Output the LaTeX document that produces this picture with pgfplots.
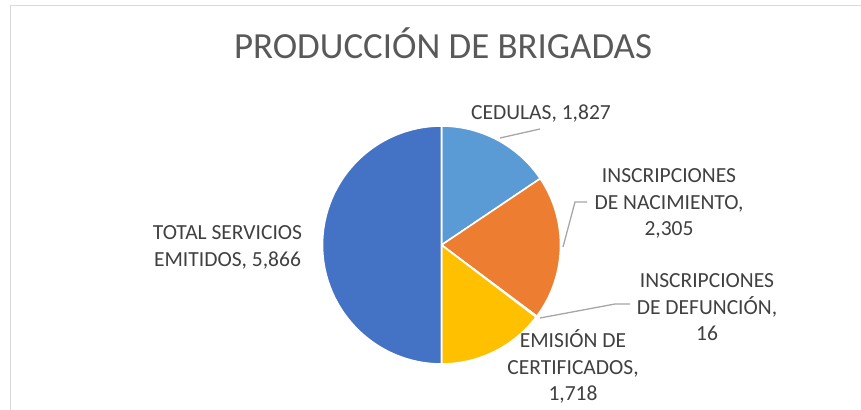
\documentclass[border=0pt]{standalone}
\usepackage{pgfplots}
\usepackage{pgfplotstable}
\pgfplotsset{compat=1.18}
\usepackage{fontspec}
\setmainfont{Carlito}
\definecolor{cced}{HTML}{5B9BD5}
\definecolor{cnac}{HTML}{ED7D31}
\definecolor{cdef}{HTML}{A5A5A5}
\definecolor{ccert}{HTML}{FFC000}
\definecolor{ctot}{HTML}{4472C4}
\definecolor{titlegray}{HTML}{595959}
\definecolor{labelgray}{HTML}{404040}
\definecolor{leader}{HTML}{A6A6A6}
\definecolor{frame}{HTML}{D9D9D9}
\pgfplotstableread{
label value color
Cedulas 1827 cced
Nacimiento 2305 cnac
Defuncion 16 cdef
Certificados 1718 ccert
Total 5866 ctot
}\piedata
\begin{document}
\begin{tikzpicture}
\pgfmathsetmacro{\total}{0}
\pgfplotsforeachungrouped \i in {0,...,4}{%
  \pgfplotstablegetelem{\i}{value}\of\piedata
  \pgfmathsetmacro{\total}{\total+\pgfplotsretval}%
}
\begin{axis}[
  scale only axis, width=861bp, height=410bp,
  xmin=0, xmax=861, ymin=0, ymax=410,
  hide axis, clip=false,
]
% frame
\draw[frame, line width=1.5bp] (axis cs:10.5,0) -- (axis cs:10.5,404.5) -- (axis cs:861,404.5);
% slices
\pgfmathsetmacro{\cum}{0}
\pgfplotsforeachungrouped \i in {0,...,4}{%
  \pgfplotstablegetelem{\i}{value}\of\piedata \let\v\pgfplotsretval
  \pgfplotstablegetelem{\i}{color}\of\piedata \let\c\pgfplotsretval
  \pgfmathsetmacro{\sa}{90-360*(\cum/\total)}%
  \pgfmathsetmacro{\cum}{\cum+\v}%
  \pgfmathsetmacro{\ea}{90-360*(\cum/\total)}%
  \edef\temp{\noexpand\filldraw[fill=\c, draw=white, line width=1.6bp, line join=round] (axis cs:441.5,165) -- ++(\sa:119bp) arc[start angle=\sa, end angle=\ea, radius=119bp] -- cycle;}%
  \temp
}
% leader lines
\draw[leader, line width=1.3bp] (axis cs:500,272) -- (axis cs:540,281);
\draw[leader, line width=1.3bp] (axis cs:563,163) -- (axis cs:575,208) -- (axis cs:587,208);
\draw[leader, line width=1.3bp] (axis cs:540,92) -- (axis cs:615,106) -- (axis cs:630,106);
% title
\node[anchor=base, text=titlegray, font=\fontsize{37}{44}\selectfont, inner sep=0pt] at (axis cs:443,351.6) {PRODUCCIÓN DE BRIGADAS};
% labels
\tikzset{lab/.style={anchor=base, text=labelgray, font=\fontsize{21.6}{26}\selectfont, inner sep=0pt}}
\node[lab] at (axis cs:541,290.2) {CEDULAS, 1,827};
\node[lab] at (axis cs:669,227.2) {INSCRIPCIONES};
\node[lab] at (axis cs:669,200.7) {DE NACIMIENTO,};
\node[lab] at (axis cs:669,174.2) {2,305};
\node[lab] at (axis cs:707,122.2) {INSCRIPCIONES};
\node[lab] at (axis cs:707,95.7) {DE DEFUNCIÓN,};
\node[lab] at (axis cs:707,69.2) {16};
\node[lab] at (axis cs:573,62.2) {EMISIÓN DE};
\node[lab] at (axis cs:573,35.7) {CERTIFICADOS,};
\node[lab] at (axis cs:573,9.2) {1,718};
\node[lab] at (axis cs:227.5,170.2) {TOTAL SERVICIOS};
\node[lab] at (axis cs:227.5,143.7) {EMITIDOS, 5,866};
\end{axis}
\pgfresetboundingbox
\useasboundingbox (0,0) rectangle (861bp,410bp);
\end{tikzpicture}
\end{document}
